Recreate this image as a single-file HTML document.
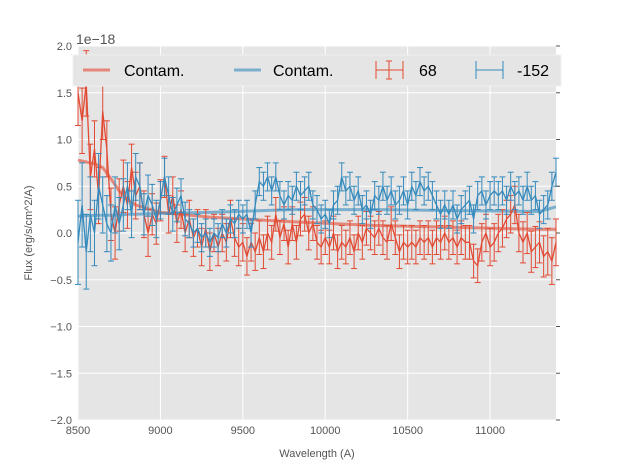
<!DOCTYPE html>
<html><head><meta charset="utf-8"><style>
body{margin:0;background:#fff;}
svg{display:block;font-family:"Liberation Sans","DejaVu Sans",sans-serif;}
</style></head><body>
<svg id="chart" width="617" height="467" viewBox="0 0 617 467"></svg>
<script>
const wlStart = 8500, wlStep = 25;
const red68 = [1.5,1.2,1.6,0.6,0.9,0.4,1.3,0.9,0.2,0.0,0.3,0.5,0.3,0.7,0.4,0.5,0.2,0.0,0.2,0.1,0.35,0.6,0.2,0.4,0.1,0.25,0.0,0.15,-0.05,0.05,-0.15,0.05,-0.2,0.0,-0.15,0.0,-0.1,0.15,-0.05,-0.15,-0.1,-0.25,-0.1,-0.2,-0.05,-0.2,0.0,-0.1,0.2,-0.05,0.1,-0.15,0.1,-0.1,0.15,0.2,0.0,0.1,-0.1,-0.15,-0.05,-0.15,0.0,-0.2,-0.1,-0.15,-0.05,-0.2,0.0,-0.1,0.05,0.0,-0.05,0.05,-0.05,-0.1,0.1,-0.05,-0.2,-0.1,-0.15,-0.1,-0.15,-0.05,-0.1,-0.05,-0.15,-0.05,-0.1,0.0,-0.1,-0.05,-0.15,-0.05,-0.1,-0.1,-0.3,-0.35,-0.1,0.0,-0.15,-0.1,0.0,0.05,0.15,0.2,0.3,0.0,-0.1,0.0,-0.2,-0.15,-0.1,-0.25,-0.2,-0.3,-0.1];
const redErr = [0.35,0.35,0.35,0.35,0.3,0.3,0.3,0.3,0.28,0.28,0.28,0.28,0.25,0.25,0.25,0.25,0.25,0.25,0.22,0.22,0.22,0.22,0.2,0.2,0.2,0.2,0.2,0.2,0.2,0.2,0.2,0.2,0.2,0.2,0.2,0.2,0.2,0.2,0.2,0.2,0.2,0.2,0.2,0.2,0.18,0.18,0.18,0.18,0.18,0.18,0.18,0.18,0.18,0.18,0.18,0.18,0.18,0.18,0.18,0.18,0.18,0.18,0.18,0.18,0.18,0.18,0.18,0.18,0.18,0.18,0.18,0.18,0.18,0.18,0.18,0.18,0.18,0.18,0.18,0.18,0.18,0.18,0.18,0.18,0.18,0.18,0.18,0.18,0.18,0.18,0.18,0.18,0.18,0.18,0.18,0.18,0.18,0.18,0.2,0.2,0.2,0.2,0.2,0.2,0.2,0.2,0.2,0.2,0.22,0.22,0.22,0.22,0.22,0.22,0.25,0.25,0.25];
const blue152 = [-0.1,0.3,-0.2,0.2,0.0,0.5,0.3,0.1,0.0,0.3,0.1,0.3,0.5,0.2,0.6,0.5,0.2,0.4,0.3,0.15,0.35,0.6,0.4,0.2,0.3,0.4,0.15,0.1,0.0,0.05,-0.05,0.0,-0.1,0.0,-0.05,0.1,0.0,0.15,0.1,0.2,0.15,0.2,0.0,0.3,0.55,0.5,0.6,0.45,0.6,0.4,0.3,0.4,0.35,0.5,0.4,0.45,0.5,0.3,0.25,0.15,0.2,0.1,0.3,0.35,0.6,0.45,0.5,0.35,0.45,0.25,0.3,0.2,0.4,0.35,0.5,0.35,0.45,0.3,0.35,0.45,0.3,0.5,0.4,0.55,0.45,0.5,0.4,0.3,0.2,0.3,0.2,0.3,0.15,0.25,0.3,0.35,0.15,0.4,0.45,0.3,0.4,0.45,0.4,0.45,0.35,0.5,0.4,0.45,0.35,0.5,0.35,0.4,0.2,0.25,0.3,0.5,0.65];
const blueErr = [0.45,0.45,0.4,0.4,0.35,0.35,0.3,0.3,0.3,0.3,0.28,0.28,0.25,0.25,0.25,0.25,0.22,0.22,0.22,0.2,0.2,0.2,0.2,0.18,0.18,0.18,0.18,0.15,0.15,0.15,0.15,0.15,0.15,0.15,0.15,0.15,0.15,0.15,0.15,0.15,0.15,0.15,0.15,0.15,0.15,0.15,0.15,0.15,0.15,0.15,0.15,0.15,0.15,0.15,0.15,0.15,0.15,0.15,0.15,0.15,0.15,0.15,0.15,0.15,0.15,0.15,0.15,0.15,0.15,0.15,0.15,0.15,0.15,0.15,0.15,0.15,0.15,0.15,0.15,0.15,0.15,0.15,0.15,0.15,0.15,0.15,0.15,0.15,0.15,0.15,0.15,0.15,0.15,0.15,0.15,0.15,0.15,0.15,0.15,0.15,0.15,0.15,0.15,0.15,0.15,0.15,0.15,0.15,0.15,0.15,0.15,0.15,0.15,0.15,0.15,0.15,0.15];
const contamWl = [8500,8600,8650,8700,8750,8800,8850,9000,9300,9800,10300,10800,11300,11400];
const contamRed = [0.78,0.74,0.7,0.58,0.45,0.36,0.3,0.22,0.17,0.12,0.08,0.06,0.04,0.04];
const contamBlue = [0.18,0.19,0.19,0.19,0.19,0.2,0.2,0.21,0.22,0.25,0.25,0.24,0.23,0.28];
const xTicks = [8500,9000,9500,10000,10500,11000];
const xTickLabels = ["8500","9000","9500","10000","10500","11000"];
const yTicks = [-2,-1.5,-1,-0.5,0,0.5,1,1.5,2];
const yTickLabels = ["\u22122.0","\u22121.5","\u22121.0","\u22120.5","0.0","0.5","1.0","1.5","2.0"];

const L=78,R=556,T=46,B=420, xMin=8500,xMax=11400,yMin=-2,yMax=2;
const X=v=>L+(v-xMin)/(xMax-xMin)*(R-L);
const Y=v=>B-(v-yMin)/(yMax-yMin)*(B-T);
const NS="http://www.w3.org/2000/svg";
const svg=document.getElementById('chart');
function mk(tag,attrs,parent){const e=document.createElementNS(NS,tag);for(const k in attrs)e.setAttribute(k,attrs[k]);(parent||svg).appendChild(e);return e;}

const bg=mk('rect',{x:L,y:T,width:R-L,height:B-T,fill:'#e5e5e5'});


const grid=mk('g',{stroke:'#fff','stroke-width':1});


xTicks.forEach(t=>mk('line',{x1:X(t),x2:X(t),y1:T,y2:B},grid));
yTicks.forEach(t=>mk('line',{x1:L,x2:R,y1:Y(t),y2:Y(t)},grid));

function series(vals,errs,color,name){
  const g=mk('g',{});
  
  
  const eg=mk('g',{stroke:color,'stroke-width':1},g);
  let d='';
  vals.forEach((v,i)=>{
    const wl=wlStart+i*wlStep; if(wl>xMax) return;
    const x=X(wl), y1=Y(v+errs[i]), y2=Y(v-errs[i]);
    mk('line',{x1:x,x2:x,y1:y1,y2:y2},eg);
    mk('line',{x1:x-3,x2:x+3,y1:y1,y2:y1},eg);
    mk('line',{x1:x-3,x2:x+3,y1:y2,y2:y2},eg);
    d+=(d?'L':'M')+x.toFixed(1)+','+Y(v).toFixed(1);
  });
  mk('path',{d:d,fill:'none',stroke:color,'stroke-width':1.3},g);
}
function contam(vals,color,name){
  let d='';contamWl.forEach((w,i)=>{d+=(i?'L':'M')+X(w).toFixed(1)+','+Y(vals[i]).toFixed(1);});
  const p=mk('path',{d:d,fill:'none',stroke:color,'stroke-width':3,'stroke-opacity':0.6,'stroke-linejoin':'round'});
  
  
}
const clip=mk('clipPath',{id:'cp'});mk('rect',{x:L,y:T,width:R-L,height:B-T},clip);
const holder=svg;
contam(contamRed,'#E24A33','contam-line-red');
contam(contamBlue,'#348ABD','contam-line-blue');
series(red68,redErr,'#E24A33','series-68');
series(blue152,blueErr,'#348ABD','series-minus-152');

const ticks=mk('g',{stroke:'#555','stroke-width':1});


yTicks.forEach(t=>{mk('line',{x1:R,x2:R+4,y1:Y(t),y2:Y(t)},ticks);});
xTicks.forEach((t,i)=>{
  const tx=mk('text',{x:X(t),y:B+14,'font-size':11,fill:'#555','text-anchor':'middle'});
  tx.textContent=xTickLabels[i];
  
  
});
yTicks.forEach((t,i)=>{
  const tx=mk('text',{x:L-6,y:Y(t)+4,'font-size':11,fill:'#555','text-anchor':'end'});
  tx.textContent=yTickLabels[i];
  
  
});
</script>
<svg width="0" height="0"></svg>
<div style="position:absolute;left:0;top:0;width:617px;height:467px;pointer-events:none;">
<svg width="617" height="467" style="position:absolute;left:0;top:0" font-family="Liberation Sans, sans-serif">
  <text x="76" y="44" font-size="14" fill="#555">1e−18</text>
  <text x="317" y="457" font-size="11" fill="#555" text-anchor="middle">Wavelength (A)</text>
  <text x="32" y="233" font-size="11" fill="#555" text-anchor="middle" transform="rotate(-90 32 233)">Flux (erg/s/cm^2/A)</text>
  <g>
    <rect x="73" y="55" width="488" height="31" fill="#e5e5e5" stroke="#f0f0f0" stroke-width="1"/>
    <g>
      <line x1="83" x2="110" y1="70" y2="70" stroke="#E24A33" stroke-opacity="0.6" stroke-width="3"/>
      <text x="124" y="76" font-size="16" fill="#000">Contam.</text>
    </g>
    <g>
      <line x1="234" x2="261" y1="70" y2="70" stroke="#348ABD" stroke-opacity="0.6" stroke-width="3"/>
      <text x="273" y="76" font-size="16" fill="#000">Contam.</text>
    </g>
    <g stroke="#E24A33" stroke-width="1">
      <line x1="376" x2="403" y1="70" y2="70"/><line x1="389" x2="389" y1="61" y2="79"/>
      <line x1="386" x2="392" y1="61" y2="61"/><line x1="386" x2="392" y1="79" y2="79"/>
      <line x1="376" x2="376" y1="61" y2="79"/><line x1="403" x2="403" y1="61" y2="79"/>
      <text x="419" y="76" font-size="16" fill="#000" stroke="none">68</text>
    </g>
    <g stroke="#348ABD" stroke-width="1">
      <line x1="476" x2="503" y1="70" y2="70"/>
      <line x1="476" x2="476" y1="61" y2="79"/><line x1="503" x2="503" y1="61" y2="79"/>
      <text x="517" y="76" font-size="16" fill="#000" stroke="none">-152</text>
    </g>
  </g>
</svg>
</div>
</body></html>
